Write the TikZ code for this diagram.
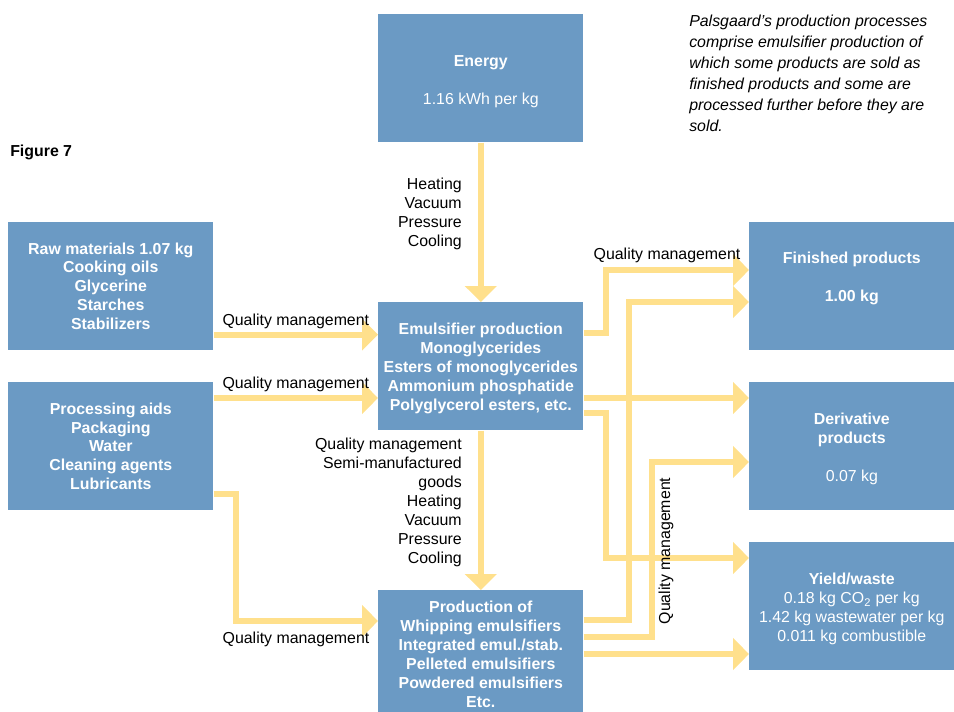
\documentclass[tikz,border=0pt]{standalone}
\usepackage{fontspec}
\setmainfont{Liberation Sans}
\usetikzlibrary{arrows.meta,calc}

\definecolor{boxblue}{HTML}{6B9AC4}
\definecolor{flowyellow}{HTML}{FFE08C}
\newcommand{\diagfont}{\fontsize{11.3}{13.5}\selectfont}
\newcommand{\toppad}{\rule{0pt}{12.4pt}}

\begin{document}
\begin{tikzpicture}[
		x=0.025cm, y=-0.025cm,
		every node/.style={font=\diagfont},
		procbox/.style={anchor=north west, fill=boxblue, text=white, align=center,
			minimum width=5.125cm, minimum height=3.2cm, inner sep=0pt},
		flow/.style={draw=flowyellow, line width=0.15cm,
			-{Triangle[length=0.4cm, width=0.78cm]}}
	]
	\useasboundingbox (0, 0) rectangle (954, 711);

	\node[procbox] (energy) at (378, 14) {\toppad\textbf{Energy}\\[13.5pt]1.16 kWh per kg};
	\node[procbox, font=\diagfont\bfseries] (raw) at (8, 222)
		{Raw materials 1.07 kg\\Cooking oils\\Glycerine\\Starches\\Stabilizers};
	\node[procbox, font=\diagfont\bfseries] (aids) at (8, 382)
		{Processing aids\\Packaging\\Water\\Cleaning agents\\Lubricants};
	\node[procbox, font=\diagfont\bfseries] (emul) at (378, 302)
		{\rule{0pt}{11pt}Emulsifier production\\Monoglycerides\\Esters of monoglycerides\\Ammonium phosphatide\\Polyglycerol esters, etc.};
	\node[procbox, font=\diagfont\bfseries] (prod) at (378, 590)
		{Production of\\Whipping emulsifiers\\Integrated emul./stab.\\Pelleted emulsifiers\\Powdered emulsifiers\\Etc.};
	\node[procbox, font=\diagfont\bfseries] (fin) at (749, 222)
		{Finished products\\[13.5pt]1.00 kg\\\mbox{}};
	\node[procbox] (deriv) at (749, 382)
		{\toppad\textbf{Derivative}\\\textbf{products}\\[13.5pt]0.07 kg};
	\node[procbox] (yield) at (749, 542)
		{\toppad\textbf{Yield/waste}\\0.18 kg CO\textsubscript{2} per kg\\1.42 kg wastewater per kg\\0.011 kg combustible};

	\node[anchor=west, inner sep=0pt, font=\diagfont\bfseries] (fig) at (10, 152) {Figure 7};
	\node[anchor=north west, inner sep=0pt, align=left, font=\fontsize{11.3}{14.9}\selectfont\itshape] (note) at (689, 15)
		{Palsgaard’s production processes\\comprise emulsifier production of\\which some products are sold as\\finished products and some are\\processed further before they are\\sold.};

	\draw[flow] (energy.south) -- (emul.north);
	\node[anchor=east, align=right, inner sep=0pt] (energyin) at (462, 214) {Heating\\Vacuum\\Pressure\\Cooling};

	\draw[flow] ($(raw.south east)+(0, -16)$) coordinate (r1) -- (r1 -| emul.west)
		node[midway, above=-1pt] (qmraw) {Quality management};
	\draw[flow] ($(aids.north east)+(0, 16)$) coordinate (a1) -- (a1 -| emul.west)
		node[midway, above=-1pt] (qmaids) {Quality management};
	\draw[flow] ($(aids.south east)+(0, -17)$) -- ++(22, 0) |- ($(prod.north west)+(0, 31)$);
	\node (qmprod) at (296, 639) {Quality management};

	\draw[flow] (emul.south) -- (prod.north);
	\node[anchor=east, align=right, inner sep=0pt] (emulout) at (462, 502)
		{Quality management\\Semi-manufactured\\goods\\Heating\\Vacuum\\Pressure\\Cooling};

	\draw[flow] ($(emul.north east)+(0, 31)$) -- ++(22, 0) |- ($(fin.north west)+(0, 48)$);
	\node (qmfin) at (667, 255) {Quality management};
	\draw[flow] ($(emul.north east)+(0, 96)$) coordinate (e2) -- (e2 -| deriv.west);
	\draw[flow] ($(emul.north east)+(0, 111)$) -- ++(22, 0) |- ($(yield.north west)+(0, 16)$);

	\draw[flow] ($(prod.north east)+(0, 30)$) -- ++(45, 0) |- ($(fin.north west)+(0, 80)$);
	\draw[flow] ($(prod.north east)+(0, 47)$) -- ++(68, 0) |- ($(deriv.north west)+(0, 80)$);
	\draw[flow] ($(prod.north east)+(0, 64)$) coordinate (p3) -- (p3 -| yield.west);
	\node[rotate=90] (qmderiv) at (666, 551) {Quality management};
\end{tikzpicture}
\end{document}
